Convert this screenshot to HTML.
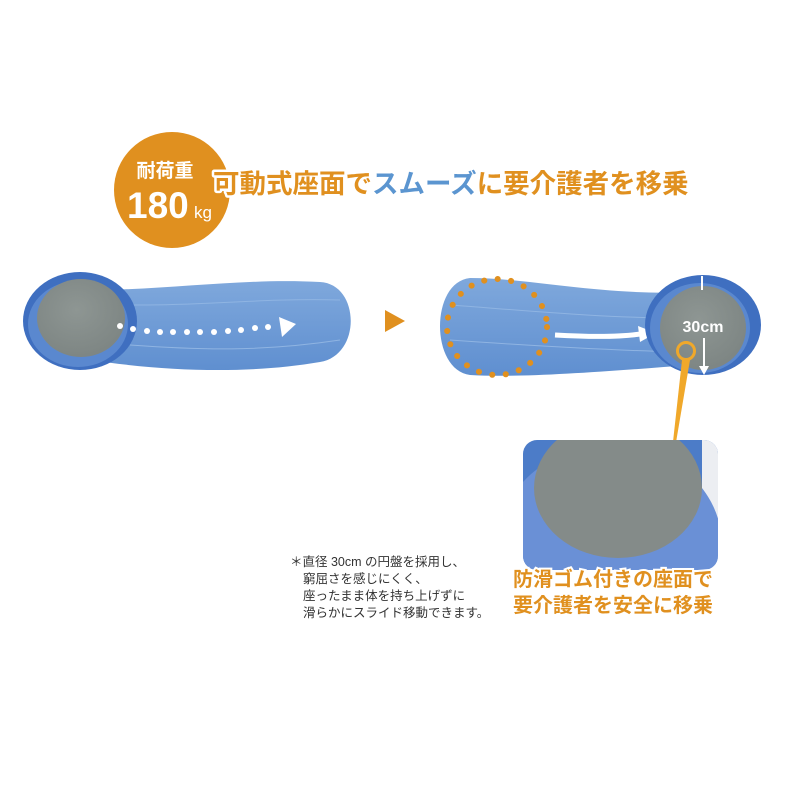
<!DOCTYPE html>
<html><head><meta charset="utf-8"><style>
html,body{margin:0;padding:0;background:#fff}
svg{display:block}
</style></head><body>
<svg width="800" height="800" viewBox="0 0 800 800" xmlns="http://www.w3.org/2000/svg" font-family="'Liberation Sans','Noto Sans CJK JP',sans-serif">
<defs>
<linearGradient id="bd" x1="0" y1="0" x2="0" y2="1"><stop offset="0" stop-color="#7fa8dc"/><stop offset="1" stop-color="#5f8fd0"/></linearGradient>
<radialGradient id="gr" cx="0.45" cy="0.4" r="0.7"><stop offset="0" stop-color="#8e9693"/><stop offset="1" stop-color="#7b8381"/></radialGradient>
</defs>
<circle cx="172" cy="190" r="58" fill="#e0901f"/>
<text x="165" y="177" font-size="19" font-weight="bold" fill="#fff" text-anchor="middle">耐荷重</text>
<text x="127" y="218" font-size="37" font-weight="bold" fill="#fff">180</text>
<text x="194" y="218" font-size="17" fill="#fff">kg</text>
<text x="213" y="193" font-size="26.5" font-weight="bold" stroke="#fff" stroke-width="5" paint-order="stroke" stroke-linejoin="round" fill="#e0901f">可動式座面で<tspan fill="#5b95d0">スムーズ</tspan>に要介護者を移乗</text>
<path d="M90 290 C170 290 240 278 320 282 C360 284 362 355 320 362 C250 374 170 372 90 360 Z" fill="url(#bd)"/>
<path d="M130 305 C200 306 260 298 340 300 M130 345 C200 350 260 352 340 340" stroke="#8fb4e2" stroke-width="1" fill="none"/>
<ellipse cx="80" cy="321" rx="57" ry="49" fill="#3f6fc0"/>
<ellipse cx="78" cy="324" rx="50" ry="43" fill="#5a88cf"/>
<ellipse cx="81" cy="318" rx="44" ry="39" fill="url(#gr)"/>
<g fill="#fff">
<circle cx="120" cy="326" r="3"/><circle cx="133" cy="329" r="3"/><circle cx="147" cy="331" r="3"/><circle cx="160" cy="332" r="3"/><circle cx="173" cy="332" r="3"/><circle cx="187" cy="332" r="3"/><circle cx="200" cy="332" r="3"/><circle cx="214" cy="332" r="3"/><circle cx="228" cy="331" r="3"/><circle cx="241" cy="330" r="3"/><circle cx="255" cy="328" r="3"/><circle cx="268" cy="327" r="3"/>
<path d="M279 317 L296 324 L282 337 Z"/>
</g>
<path d="M385 310 L405 321 L385 332 Z" fill="#e0901f"/>
<path d="M470 278 C530 278 600 296 690 292 L690 365 C600 372 520 378 470 375 C430 370 430 282 470 278 Z" fill="url(#bd)"/>
<path d="M450 305 C520 310 600 318 680 318 M450 340 C520 345 600 350 680 352" stroke="#8fb4e2" stroke-width="1" fill="none"/>
<ellipse cx="497" cy="327" rx="50" ry="48" fill="none" stroke="#e0901f" stroke-width="6" stroke-dasharray="0.1 13.5" stroke-linecap="round"/>
<path d="M555 335 C590 337 620 337 640 334" stroke="#fff" stroke-width="5" fill="none"/>
<path d="M638 326 L656 333 L640 342 Z" fill="#fff"/>
<ellipse cx="703" cy="325" rx="58" ry="50" fill="#3f6fc0"/>
<ellipse cx="700" cy="328" rx="50" ry="45" fill="#5a88cf"/>
<ellipse cx="703" cy="328" rx="43" ry="42" fill="url(#gr)"/>
<line x1="702" y1="276" x2="702" y2="290" stroke="#fff" stroke-width="2"/>
<line x1="704" y1="338" x2="704" y2="370" stroke="#fff" stroke-width="2"/>
<path d="M699 366 L704 375 L709 366 Z" fill="#fff"/>
<text x="703" y="332" font-size="16" font-weight="bold" fill="#fff" text-anchor="middle">30cm</text>
<path d="M682 360 L690 360 L673 460 L671 460 Z" fill="#f0a82a"/>
<circle cx="686" cy="351" r="8.5" fill="none" stroke="#f0a82a" stroke-width="3"/>
<clipPath id="ic"><rect x="523" y="440" width="195" height="130" rx="14"/></clipPath>
<g clip-path="url(#ic)">
<rect x="523" y="440" width="195" height="130" fill="#4c7cc8"/>
<rect x="702" y="440" width="16" height="130" fill="#eceef2"/>
<ellipse cx="610" cy="545" rx="112" ry="100" fill="#6a90d6"/>
<ellipse cx="618" cy="488" rx="84" ry="70" fill="#848b89"/>
</g>
<text x="513" y="586" font-size="20" font-weight="bold" fill="#e0901f" stroke="#fff" stroke-width="4" paint-order="stroke">防滑ゴム付きの座面で</text>
<text x="513" y="612" font-size="20" font-weight="bold" fill="#e0901f">要介護者を安全に移乗</text>
<g font-size="12.5" fill="#333">
<text x="290" y="566">＊直径 30cm の円盤を採用し、</text>
<text x="303" y="583">窮屈さを感じにくく、</text>
<text x="303" y="600">座ったまま体を持ち上げずに</text>
<text x="303" y="617">滑らかにスライド移動できます。</text>
</g>
</svg>
</body></html>
